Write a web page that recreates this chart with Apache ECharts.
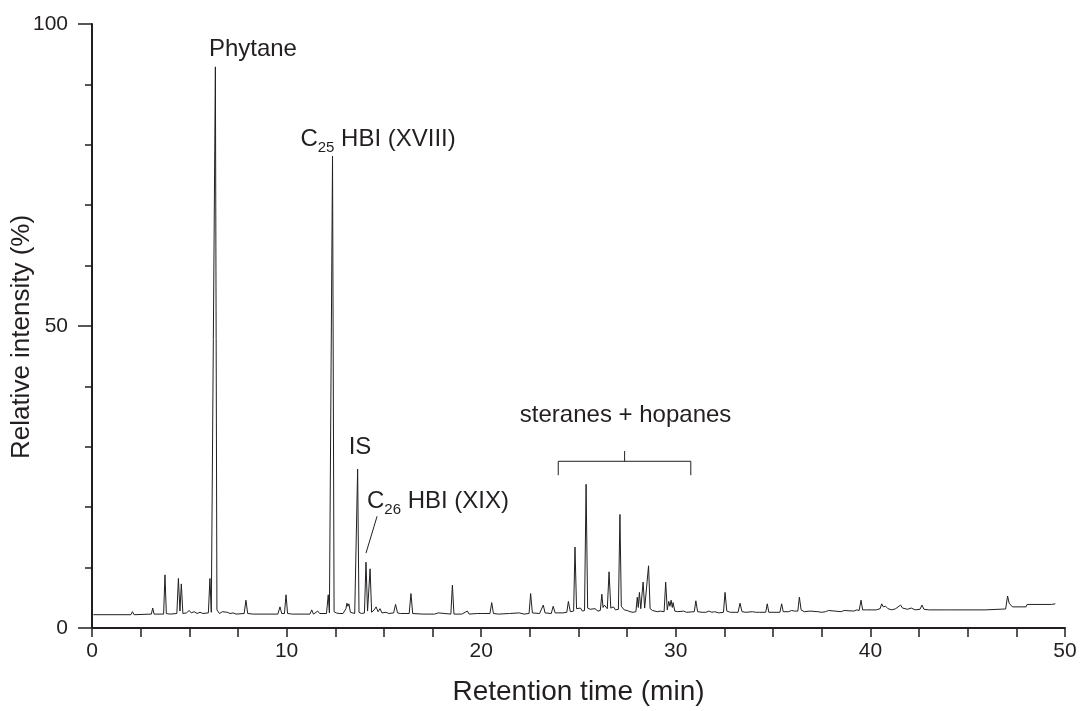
<!DOCTYPE html>
<html>
<head>
<meta charset="utf-8">
<script src="https://cdn.jsdelivr.net/npm/echarts@6/dist/echarts.min.js"></script>
<style>
html,body{margin:0;padding:0;background:#fff;}
#chart{width:1081px;height:711px;}
</style>
</head>
<body>
<div id="chart"></div>
<script>
// Chromatogram trace: retention time (min) and relative intensity (%)
const retentionTime = [
  0.07, 2.0, 2.08, 2.16,
  3.05, 3.12, 3.19,
  3.68, 3.75, 3.82, 3.9, 4.0,
  4.36, 4.44, 4.52, 4.59, 4.67,
  4.85, 5.0, 5.1, 5.25, 5.4, 5.55, 5.7,
  5.98, 6.06, 6.13, 6.22, 6.34, 6.42,
  6.55, 6.7, 6.8, 6.95, 7.1, 7.25, 7.4,
  7.82, 7.91, 8.0, 8.3,
  9.55, 9.66, 9.75, 9.89, 9.97, 10.05, 10.3,
  11.2, 11.29, 11.38, 11.6, 11.7,
  12.05, 12.14, 12.2, 12.27, 12.36, 12.44, 12.55, 12.7,
  12.9, 13.05, 13.1, 13.15, 13.2, 13.28, 13.5,
  13.58, 13.65, 13.72, 13.85,
  14.0, 14.08, 14.16, 14.29, 14.37, 14.5, 14.6, 14.7, 14.8, 14.9, 15.1, 15.25,
  15.5, 15.6, 15.7, 15.85,
  16.3, 16.39, 16.48, 17.0, 17.6, 17.8, 17.9,
  18.44, 18.52, 18.6, 19.0, 19.29, 19.38, 19.8, 19.9, 20.0,
  20.45, 20.54, 20.63, 20.9, 21.45, 21.95, 22.2,
  22.46, 22.54, 22.63, 23.0, 23.19, 23.28, 23.6, 23.7, 23.8, 24.2,
  24.4, 24.48, 24.58, 24.75, 24.82, 24.9, 25.0, 25.1, 25.2, 25.31, 25.39, 25.47,
  25.6, 25.7, 25.85, 26.0, 26.12, 26.2, 26.26, 26.33, 26.48, 26.57, 26.66,
  26.8, 26.9, 27.05, 27.13, 27.2, 27.26, 27.35, 27.5, 27.65, 27.8, 27.95,
  28.02, 28.07, 28.13, 28.2, 28.32, 28.4, 28.5, 28.6, 28.68, 28.8, 28.9,
  29.05, 29.2, 29.4, 29.48, 29.56, 29.64, 29.7, 29.76, 29.82, 29.86, 29.95,
  30.1, 30.4, 30.55,
  30.95, 31.03, 31.12, 31.35, 31.45, 31.55, 31.7, 31.85, 32.0, 32.2,
  32.45, 32.53, 32.62, 32.8, 33.2, 33.3, 33.4, 33.6, 33.95, 34.02, 34.1, 34.3,
  34.62, 34.7, 34.78, 35.2, 35.35, 35.44, 35.52, 35.8, 35.95, 36.1,
  36.27, 36.35, 36.44, 36.6, 36.9, 37.0, 37.3, 37.5, 37.7, 37.85, 37.95,
  38.5, 38.65, 38.75, 39.15, 39.3, 39.42, 39.52, 39.6, 39.8, 40.3,
  40.5, 40.58, 40.66, 40.78, 40.9, 41.1, 41.3, 41.55, 41.65, 41.9, 42.1, 42.3,
  42.55, 42.65, 42.75, 43.0,
  43.9, 44.0, 44.1, 45.9, 45.95, 46.95, 47.05, 47.13, 47.3, 48.0, 48.05, 49.3, 49.5
];
const relIntensity = [
  2.2, 2.2, 2.7, 2.2,
  2.3, 3.3, 2.3,
  2.3, 8.8, 2.4, 2.5, 2.3,
  2.4, 8.2, 2.8, 7.3, 2.4,
  2.5, 2.9, 2.5, 2.7, 2.4, 2.6, 2.4,
  2.5, 8.2, 2.6, 2.8, 92.9, 3.0,
  2.4, 2.7, 2.4, 2.6, 2.4, 2.5, 2.3,
  2.4, 4.6, 2.4, 2.3,
  2.3, 3.5, 2.4, 2.4, 5.5, 2.4, 2.3,
  2.3, 3.0, 2.3, 2.8, 2.4,
  2.4, 5.5, 2.5, 2.7, 78.1, 2.7, 2.5, 2.4,
  2.4, 3.2, 4.1, 3.6, 4.0, 2.6, 2.4,
  2.5, 26.3, 2.6, 2.4,
  2.5, 10.9, 2.8, 9.8, 2.6, 3.0, 3.5, 2.7, 3.2, 2.5, 2.6, 2.4,
  2.5, 3.9, 2.5, 2.4,
  2.4, 5.7, 2.4, 2.3, 2.3, 2.5, 2.3,
  2.3, 7.1, 2.3, 2.3, 2.8, 2.3, 2.4, 2.6, 2.4,
  2.4, 4.2, 2.4, 2.3, 2.4, 2.5, 2.3,
  2.4, 5.7, 2.5, 2.4, 3.8, 2.5, 2.4, 3.6, 2.5, 2.5,
  2.6, 4.4, 2.7, 2.8, 13.4, 3.2, 2.9, 3.3, 2.8, 2.9, 23.8, 3.3,
  3.1, 3.0, 3.2, 2.8, 2.9, 5.6, 3.4, 3.8, 3.2, 9.3, 3.3,
  3.5, 3.0, 3.1, 18.8, 3.6, 3.8, 3.0, 2.9, 2.7, 2.6, 2.7,
  5.1, 3.4, 5.9, 3.2, 7.6, 3.3, 3.0, 10.3, 3.2, 2.9, 2.8,
  2.7, 2.8, 2.7, 7.6, 3.0, 4.4, 3.6, 4.6, 3.4, 4.2, 2.8,
  2.7, 2.8, 2.6,
  2.7, 4.5, 2.7, 2.6, 2.9, 2.6, 2.8, 2.6, 2.7, 2.5,
  2.6, 5.9, 2.8, 2.6, 2.6, 4.1, 2.7, 2.6, 2.7, 3.0, 2.6, 2.6,
  2.6, 4.0, 2.6, 2.6, 2.6, 4.0, 2.7, 2.7, 2.9, 2.8,
  2.8, 5.1, 3.0, 2.7, 2.8, 2.6, 2.7, 2.6, 2.7, 2.9, 2.7,
  2.7, 2.9, 2.7, 2.8, 3.0, 2.9, 4.6, 3.0, 3.0, 3.0,
  3.2, 4.0, 3.5, 3.6, 3.2, 3.0, 3.2, 3.8, 3.3, 3.1, 3.3, 3.0,
  3.1, 3.8, 3.1, 3.0,
  3.0, 3.2, 3.0, 3.0, 3.15, 3.15, 5.3, 4.1, 3.5, 3.5, 3.9, 3.9, 4.0
];

// Axis ticks
const xTicks = [0, 10, 20, 30, 40, 50];
const yTicks = [0, 50, 100];

// Annotations (text, anchor in data coordinates)
const peakLabels = [
  { text: '{n|Phytane}', at: [8.27, 95.5] },
  { text: '{n|C}{s|25}{n| HBI (XVIII)}', at: [14.70, 80.6] },
  { text: '{n|IS}', at: [13.77, 29.6] },
  { text: '{n|C}{s|26}{n| HBI (XIX)}', at: [17.78, 20.7] },
  { text: '{n|steranes + hopanes}', at: [27.42, 34.9] }
];
const c26Pointer = [[14.65, 18.5], [14.08, 12.4]];
const bracketArms = [[23.96, 25.3], [23.96, 27.6], [30.77, 27.6], [30.77, 25.3]];
const bracketStem = [[27.37, 27.6], [27.37, 29.3]];

const ink = '#231f20';
const font = '"Liberation Sans", Arial, Helvetica, sans-serif';

const trace = retentionTime.map((t, i) => [t, relIntensity[i]]);

const chart = echarts.init(document.getElementById('chart'), null, { renderer: 'canvas' });
chart.setOption({
  animation: false,
  backgroundColor: '#ffffff',
  textStyle: { fontFamily: font, color: ink },
  grid: { left: 92, right: 16, top: 24, bottom: 83, containLabel: false, outerBoundsMode: 'none' },
  xAxis: {
    type: 'value',
    min: xTicks[0], max: xTicks[xTicks.length - 1], interval: 10,
    name: 'Retention time (min)', nameLocation: 'middle', nameGap: 50, nameMoveOverlap: false,
    nameTextStyle: { fontSize: 28, color: ink, fontFamily: font },
    axisLine: { show: true, onZero: false, lineStyle: { color: ink, width: 2 } },
    axisTick: { show: true, inside: false, length: 9, lineStyle: { color: ink, width: 1.5 } },
    minorTick: { show: true, splitNumber: 4, length: 9, lineStyle: { color: ink, width: 1.5 } },
    axisLabel: { fontSize: 21, color: ink, fontFamily: font, margin: 13,
      formatter: v => xTicks.includes(v) ? String(v) : '' },
    splitLine: { show: false }, minorSplitLine: { show: false }
  },
  yAxis: {
    type: 'value',
    min: yTicks[0], max: yTicks[yTicks.length - 1], interval: 50,
    name: 'Relative intensity (%)', nameLocation: 'middle', nameGap: 57, nameMoveOverlap: false,
    nameTextStyle: { fontSize: 26, color: ink, fontFamily: font, padding: [0, 22, 0, 0] },
    axisLine: { show: true, onZero: false, lineStyle: { color: ink, width: 2 } },
    axisTick: { show: true, inside: false, length: 14, lineStyle: { color: ink, width: 1.5 } },
    minorTick: { show: true, splitNumber: 5, length: 7, lineStyle: { color: ink, width: 1.5 } },
    axisLabel: { fontSize: 21, color: ink, fontFamily: font, margin: 24,
      formatter: v => yTicks.includes(v) ? String(v) : '' },
    splitLine: { show: false }, minorSplitLine: { show: false }
  },
  series: [
    {
      type: 'line', data: trace, symbol: 'none', silent: true,
      lineStyle: { color: ink, width: 1 }, z: 3
    },
    {
      type: 'line', data: c26Pointer, symbol: 'none', silent: true,
      lineStyle: { color: ink, width: 1 }
    },
    {
      type: 'line', data: bracketArms, symbol: 'none', silent: true,
      lineStyle: { color: ink, width: 1 }
    },
    {
      type: 'line', data: bracketStem, symbol: 'none', silent: true,
      lineStyle: { color: ink, width: 1 }
    },
    {
      type: 'scatter', symbolSize: 0, silent: true,
      itemStyle: { color: ink, opacity: 1 },
      data: peakLabels.map(p => ({ value: p.at, label: { formatter: p.text } })),
      label: {
        show: true, position: 'inside', align: 'center', verticalAlign: 'middle',
        color: ink, textBorderWidth: 0, opacity: 1,
        rich: {
          n: { fontSize: 24, color: ink, fontFamily: font, padding: [0, 0, 4, 0], textBorderWidth: 0 },
          s: { fontSize: 15, color: ink, fontFamily: font, verticalAlign: 'bottom', textBorderWidth: 0 }
        }
      }
    }
  ]
});
</script>
</body>
</html>
